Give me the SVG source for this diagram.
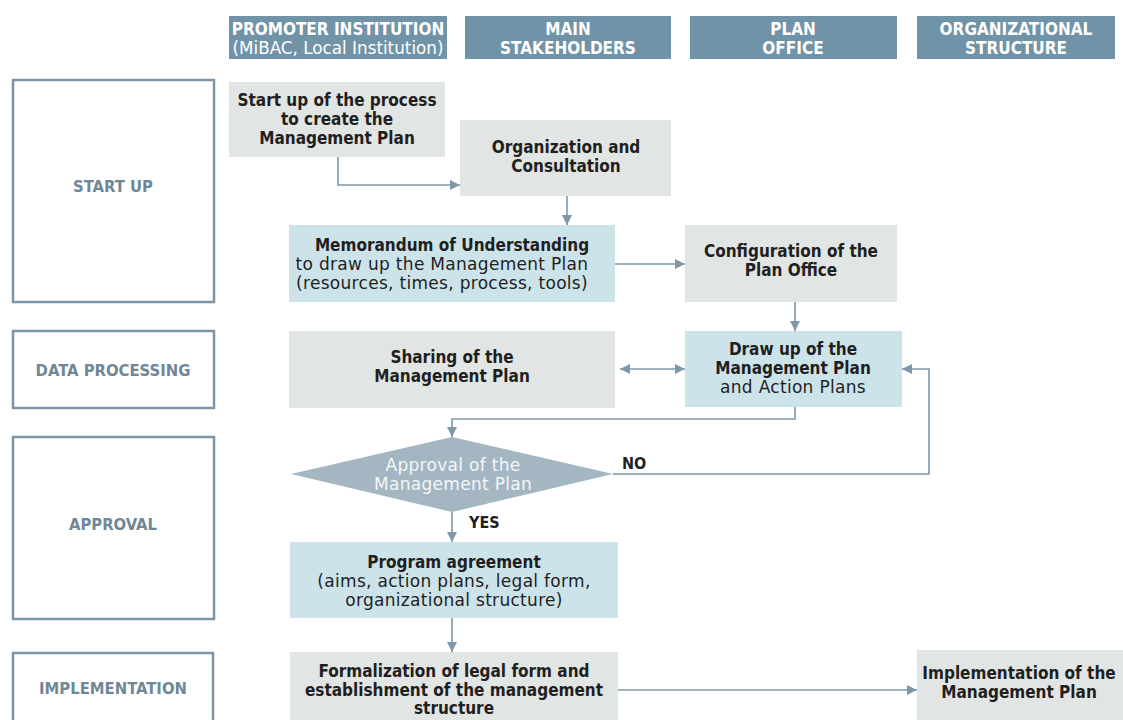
<svg xmlns="http://www.w3.org/2000/svg" width="1123" height="720" viewBox="0 0 1123 720">
<defs>
<style>
.hdr{fill:#7193a7}
.hdrt{font-family:"DejaVu Sans Condensed","DejaVu Sans",sans-serif;font-size:17px;font-weight:bold;fill:#ffffff;text-anchor:middle}
.hdrn{font-family:"DejaVu Sans",sans-serif;font-size:16.8px;fill:#ffffff;text-anchor:middle}
.phase{fill:#ffffff;stroke:#7d95a6;stroke-width:2.5}
.phaset{font-family:"DejaVu Sans Condensed","DejaVu Sans",sans-serif;font-size:16.5px;font-weight:bold;fill:#6f8797;text-anchor:middle}
.gray{fill:#e1e5e3}
.blue{fill:#cde3ea}
.t{font-family:"DejaVu Sans Condensed","DejaVu Sans",sans-serif;font-size:17px;font-weight:bold;fill:#1f1f1f;text-anchor:middle}
.n{font-family:"DejaVu Sans",sans-serif;font-size:17px;letter-spacing:0.3px;fill:#1f1f1f;text-anchor:middle}
.dia{fill:#a3b6c1}
.diat{font-family:"DejaVu Sans",sans-serif;font-size:17px;letter-spacing:0.3px;fill:#f4f7f8;text-anchor:middle}
.lbl{font-family:"DejaVu Sans Condensed","DejaVu Sans",sans-serif;font-size:16px;font-weight:bold;fill:#1f1f1f}
.c{fill:none;stroke:#7e98aa;stroke-width:1.6}
</style>
<marker id="ah" viewBox="0 0 10 10" refX="10" refY="5" markerWidth="10" markerHeight="10" markerUnits="userSpaceOnUse" orient="auto-start-reverse">
<path d="M0,0 L10,5 L0,10 z" fill="#7e98aa"/>
</marker>
</defs>
<rect width="1123" height="720" fill="#ffffff"/>

<g id="headers">
<g id="h-promoter"><rect class="hdr" x="229" y="16" width="218" height="43"/>
<text class="hdrt" x="338" y="35">PROMOTER INSTITUTION</text>
<text class="hdrn" x="338" y="54">(MiBAC, Local Institution)</text></g>
<g id="h-stake"><rect class="hdr" x="465" y="16" width="206" height="43"/>
<text class="hdrt" x="568" y="35">MAIN</text>
<text class="hdrt" x="568" y="54">STAKEHOLDERS</text></g>
<g id="h-plan"><rect class="hdr" x="690" y="16" width="207" height="43"/>
<text class="hdrt" x="793" y="35">PLAN</text>
<text class="hdrt" x="793" y="54">OFFICE</text></g>
<g id="h-org"><rect class="hdr" x="917" y="16" width="198" height="43"/>
<text class="hdrt" x="1016" y="35">ORGANIZATIONAL</text>
<text class="hdrt" x="1016" y="54">STRUCTURE</text></g>
</g>

<g id="phases">
<g id="p-startup"><rect class="phase" x="13" y="80" width="201" height="222"/><text class="phaset" x="113" y="192">START UP</text></g>
<g id="p-data"><rect class="phase" x="13" y="331" width="201" height="77"/><text class="phaset" x="113" y="376">DATA PROCESSING</text></g>
<g id="p-approval"><rect class="phase" x="13" y="437" width="201" height="182"/><text class="phaset" x="113" y="530">APPROVAL</text></g>
<g id="p-impl"><rect class="phase" x="13" y="653" width="200" height="80"/><text class="phaset" x="113" y="694">IMPLEMENTATION</text></g>
</g>

<g id="connectors">
<path class="c" d="M338,157 V185 H460" marker-end="url(#ah)"/>
<path class="c" d="M567,196 V225" marker-end="url(#ah)"/>
<path class="c" d="M615,264 H685" marker-end="url(#ah)"/>
<path class="c" d="M795,301 V331" marker-end="url(#ah)"/>
<path class="c" d="M620,369 H685" marker-start="url(#ah)" marker-end="url(#ah)"/>
<path class="c" d="M795,407 V419 H452 V437" marker-end="url(#ah)"/>
<path class="c" d="M613,474 H929 V369 H902" marker-end="url(#ah)"/>
<path class="c" d="M452,512 V542" marker-end="url(#ah)"/>
<path class="c" d="M452,618 V652" marker-end="url(#ah)"/>
<path class="c" d="M618,690 H917" marker-end="url(#ah)"/>
<text class="lbl" x="622" y="469">NO</text>
<text class="lbl" x="469" y="528">YES</text>
</g>

<g id="n-startup"><rect class="gray" x="229" y="82" width="216" height="75"/>
<text class="t" x="337" y="106">Start up of the process</text>
<text class="t" x="337" y="125">to create the</text>
<text class="t" x="337" y="144">Management Plan</text></g>

<g id="n-orgcons"><rect class="gray" x="460" y="120" width="211" height="76"/>
<text class="t" x="566" y="153">Organization and</text>
<text class="t" x="566" y="172">Consultation</text></g>

<g id="n-memo"><rect class="blue" x="289" y="225" width="326" height="77"/>
<text class="t" x="452" y="251">Memorandum of Understanding</text>
<text class="n" x="442" y="270">to draw up the Management Plan</text>
<text class="n" x="442" y="289">(resources, times, process, tools)</text></g>

<g id="n-config"><rect class="gray" x="685" y="225" width="212" height="77"/>
<text class="t" x="791" y="257">Configuration of the</text>
<text class="t" x="791" y="276">Plan Office</text></g>

<g id="n-sharing"><rect class="gray" x="289" y="331" width="326" height="77"/>
<text class="t" x="452" y="363">Sharing of the</text>
<text class="t" x="452" y="382">Management Plan</text></g>

<g id="n-drawup"><rect class="blue" x="685" y="331" width="217" height="76"/>
<text class="t" x="793" y="355">Draw up of the</text>
<text class="t" x="793" y="374">Management Plan</text>
<text class="n" x="793" y="393">and Action Plans</text></g>

<g id="n-approval"><polygon class="dia" points="452,437 613,474 452,512 291,474"/>
<text class="diat" x="453" y="471">Approval of the</text>
<text class="diat" x="453" y="490">Management Plan</text></g>

<g id="n-program"><rect class="blue" x="290" y="542" width="328" height="76"/>
<text class="t" x="454" y="568">Program agreement</text>
<text class="n" x="454" y="587">(aims, action plans, legal form,</text>
<text class="n" x="454" y="606">organizational structure)</text></g>

<g id="n-formal"><rect class="gray" x="290" y="652" width="328" height="80"/>
<text class="t" x="454" y="677">Formalization of legal form and</text>
<text class="t" x="454" y="696">establishment of the management</text>
<text class="t" x="454" y="714">structure</text></g>

<g id="n-implement"><rect class="gray" x="917" y="650" width="210" height="80"/>
<text class="t" x="1019" y="679">Implementation of the</text>
<text class="t" x="1019" y="698">Management Plan</text></g>
</svg>
